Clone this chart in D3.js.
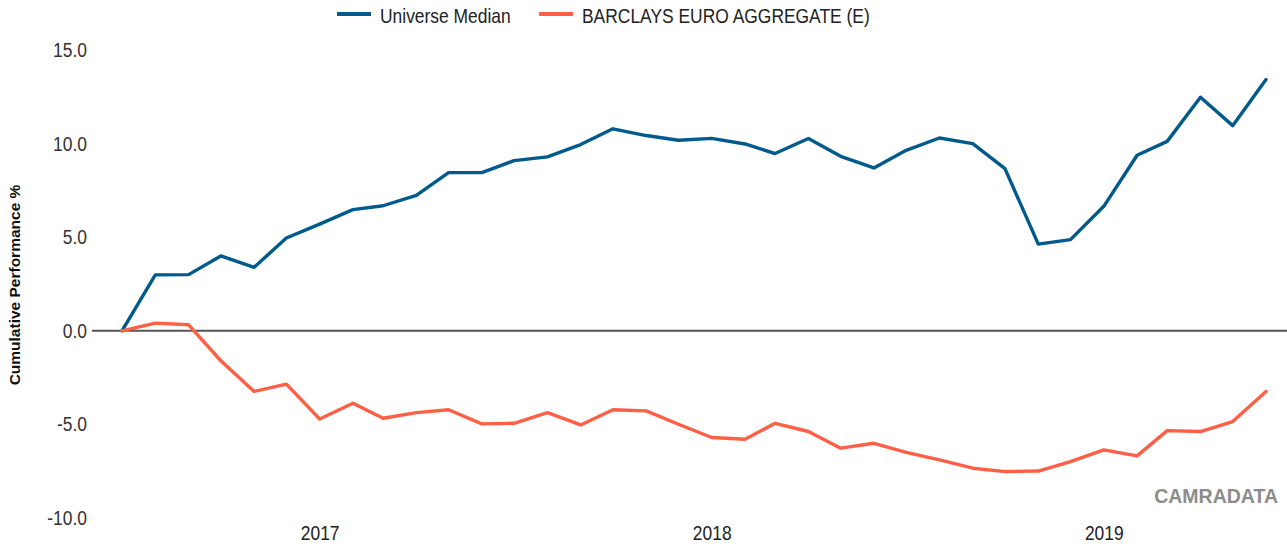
<!DOCTYPE html>
<html>
<head>
<meta charset="utf-8">
<script src="https://cdn.jsdelivr.net/npm/d3@7/dist/d3.min.js"></script>
<style>
    body { margin: 0; background: #fff; }
    svg { display: block; }
    .narrow { font-family: "Liberation Sans", Arial, sans-serif; }
</style>
</head>
<body>
<svg id="chart" width="1287" height="547"></svg>
<script>
// month starts, one point per month
var months = ['2016-07','2016-08','2016-09','2016-10','2016-11','2016-12',
              '2017-01','2017-02','2017-03','2017-04','2017-05','2017-06',
              '2017-07','2017-08','2017-09','2017-10','2017-11','2017-12',
              '2018-01','2018-02','2018-03','2018-04','2018-05','2018-06',
              '2018-07','2018-08','2018-09','2018-10','2018-11','2018-12',
              '2019-01','2019-02','2019-03','2019-04','2019-05','2019-06'];

var universeMedian = [0, 2.99, 3.0, 4.0, 3.39, 4.96, 5.7, 6.47, 6.68, 7.24,
                      8.45, 8.45, 9.09, 9.29, 9.95, 10.79, 10.43, 10.18, 10.28, 9.98,
                      9.47, 10.27, 9.32, 8.70, 9.64, 10.30, 10.0, 8.66, 4.63, 4.87,
                      6.65, 9.38, 10.12, 12.48, 10.96, 13.42];

var barclaysEuroAgg = [0, 0.41, 0.32, -1.6, -3.24, -2.85, -4.71, -3.87, -4.67, -4.37,
                       -4.22, -4.97, -4.94, -4.37, -5.03, -4.22, -4.28, -4.99, -5.7, -5.79,
                       -4.94, -5.38, -6.27, -6.01, -6.49, -6.9, -7.34, -7.52, -7.49, -6.99,
                       -6.36, -6.68, -5.33, -5.38, -4.85, -3.24];

var seriesNames = ['Universe Median', 'BARCLAYS EURO AGGREGATE (E)'];
var seriesColors = ['#005a8c', '#ff5f45'];
var yTicks = [-10, -5, 0, 5, 10, 15];
var yearTicks = ['2017-01', '2018-01', '2019-01'];

var squeeze = 'scale(0.85,1)';  // no narrow font installed, so squash the regular one

var svg = d3.select('#chart');
var parseMonth = d3.timeParse('%Y-%m');
var dates = months.map(parseMonth);

var x = d3.scaleTime()
    .domain([dates[0], dates[dates.length - 1]])
    .range([122, 1266]);

var y = d3.scaleLinear()
    .domain([-10, 15])
    .range([518, 50]);

// y axis labels, no line / ticks
var yAxis = svg.append('g')
    .attr('transform', 'translate(87,0)')
    .call(d3.axisLeft(y).tickValues(yTicks).tickSize(0).tickPadding(0));
yAxis.select('.domain').remove();
yAxis.selectAll('text')
    .attr('class', 'narrow')
    .attr('font-size', 20.5)
    .attr('fill', '#333')
    .attr('transform', squeeze)
    .text(function(d){ return d3.format('.1f')(d).replace('\u2212', '-'); });

// x axis year labels
var xAxis = svg.append('g')
    .attr('transform', 'translate(0,518)')
    .call(d3.axisBottom(x).tickValues(yearTicks.map(parseMonth)).tickFormat(d3.timeFormat('%Y')).tickSize(0).tickPadding(7));
xAxis.select('.domain').remove();
xAxis.selectAll('text')
    .attr('class', 'narrow')
    .attr('font-size', 20.5)
    .attr('fill', '#222')
    .attr('transform', squeeze);

// zero line
svg.append('line')
    .attr('x1', 92).attr('x2', 1287)
    .attr('y1', y(0)).attr('y2', y(0))
    .attr('stroke', '#555')
    .attr('stroke-width', 2);

// y title
svg.append('text')
    .attr('class', 'narrow')
    .attr('transform', 'translate(20,285) rotate(-90)')
    .attr('text-anchor', 'middle')
    .attr('font-size', 15.5)
    .attr('font-weight', 'bold')
    .attr('fill', '#111')
    .text('Cumulative Performance %');

var line = d3.line()
    .x(function(d, i){ return x(dates[i]); })
    .y(function(d){ return y(d); });

[universeMedian, barclaysEuroAgg].forEach(function(s, k){
    svg.append('path')
        .datum(s)
        .attr('d', line)
        .attr('fill', 'none')
        .attr('stroke', seriesColors[k])
        .attr('stroke-width', 3.4)
        .attr('stroke-linejoin', 'round')
        .attr('stroke-linecap', 'round');
});

// legend
var legendX = [337, 539];
seriesNames.forEach(function(n, k){
    var g = svg.append('g').attr('transform', 'translate(' + legendX[k] + ',14)');
    g.append('line')
        .attr('x1', 0).attr('x2', 34)
        .attr('stroke', seriesColors[k])
        .attr('stroke-width', 4);
    g.append('text')
        .attr('class', 'narrow')
        .attr('transform', 'translate(43,0) ' + squeeze)
        .attr('dy', 8.5)
        .attr('font-size', 20.5)
        .attr('fill', '#222')
        .text(n);
});

// watermark
svg.append('text')
    .attr('x', 1278)
    .attr('y', 503)
    .attr('text-anchor', 'end')
    .attr('font-family', '"Liberation Sans", Arial, sans-serif')
    .attr('font-weight', 'bold')
    .attr('font-size', 19.5)
    .attr('fill', '#8c8c8c')
    .text('CAMRADATA');
</script>
</body>
</html>
